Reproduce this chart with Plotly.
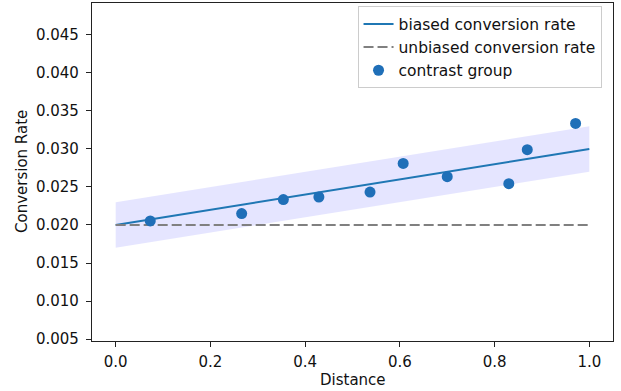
import plotly.graph_objects as go

# Data
line_x = [0.0, 1.0]
biased_rate = [0.020, 0.030]
unbiased_rate = [0.020, 0.020]
band_upper = [0.023, 0.033]
band_lower = [0.017, 0.027]
contrast_x = [0.073, 0.266, 0.354, 0.429, 0.537, 0.607, 0.700, 0.830, 0.869, 0.971]
contrast_y = [0.02053, 0.0215, 0.02334, 0.02368, 0.02433, 0.0281, 0.02636, 0.02544, 0.0299, 0.03336]

x_ticks = [0.0, 0.2, 0.4, 0.6, 0.8, 1.0]
y_ticks = [0.005, 0.010, 0.015, 0.020, 0.025, 0.030, 0.035, 0.040, 0.045]

FONT = "DejaVu Sans"
W, H = 621, 391
ML, MR, MT, MB = 92, 8, 3, 50

fig = go.Figure()

fig.add_trace(go.Scatter(x=line_x, y=band_lower, mode="lines", line=dict(width=0),
                         showlegend=False, hoverinfo="skip"))
fig.add_trace(go.Scatter(x=line_x, y=band_upper, mode="lines", line=dict(width=0),
                         fill="tonexty", fillcolor="rgba(0,0,255,0.1)",
                         showlegend=False, hoverinfo="skip"))
fig.add_trace(go.Scatter(x=line_x, y=biased_rate, mode="lines", name="biased conversion rate",
                         line=dict(color="#1f77b4", width=2)))
fig.add_trace(go.Scatter(x=line_x, y=unbiased_rate, mode="lines", name="unbiased conversion rate",
                         line=dict(color="gray", width=2, dash="10px,4px")))
fig.add_trace(go.Scatter(x=contrast_x, y=contrast_y, mode="markers", name="contrast group",
                         marker=dict(color="#1f6fb8", size=11)))

axis_common = dict(showgrid=False, zeroline=False, showline=True, linecolor="#222",
                   linewidth=1.2, mirror=True, ticks="outside", ticklen=5, tickwidth=1.2,
                   tickcolor="#222", automargin=False,
                   tickfont=dict(family=FONT, size=15, color="#111"))

fig.update_xaxes(range=[-0.05, 1.05], tickvals=x_ticks, tickformat=".1f",
                 ticklabelstandoff=2, **axis_common)
fig.update_yaxes(range=[0.00474, 0.0492], tickvals=y_ticks, tickformat=".3f",
                 ticklabelstandoff=4, **axis_common)

plot_h = H - MT - MB
fig.update_layout(
    width=W, height=H,
    margin=dict(l=ML, r=MR, t=MT, b=MB),
    plot_bgcolor="white", paper_bgcolor="white",
    font=dict(family=FONT, size=15, color="#111"),
    legend=dict(x=0.978, y=0.99, xanchor="right", yanchor="top", traceorder="normal",
                bgcolor="rgba(255,255,255,0.8)", bordercolor="#cccccc", borderwidth=1,
                font=dict(family=FONT, size=15.5, color="#111"), tracegroupgap=0),
    annotations=[
        dict(text="Distance", xref="paper", yref="paper", x=0.5, y=-(380 - (H - MB)) / plot_h,
             xanchor="center", yanchor="middle", showarrow=False,
             font=dict(family=FONT, size=15, color="#111")),
        dict(text="Conversion Rate", xref="paper", yref="paper", x=-(ML - 22) / (W - ML - MR),
             y=0.5, xanchor="center", yanchor="middle", textangle=-90, showarrow=False,
             font=dict(family=FONT, size=15, color="#111")),
    ],
)

fig.write_html("out.html", config={"displayModeBar": False},
               post_script="document.body.style.margin='0';document.body.style.overflow='hidden';")
